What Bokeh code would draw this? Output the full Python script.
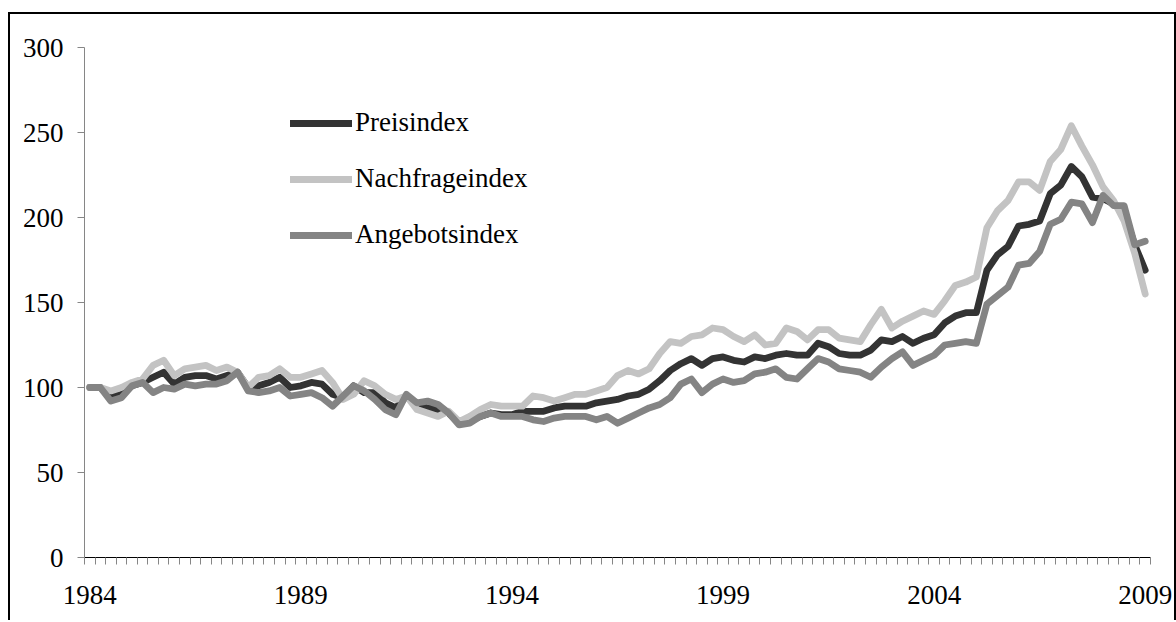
from bokeh.plotting import figure
from bokeh.models import FixedTicker, Legend, LegendItem, Range1d
from bokeh.embed import file_html
from bokeh.resources import INLINE

# ---------------- data (quarterly, 1984Q1 .. 2009Q1) ----------------
year_labels = ["1984", "1989", "1994", "1999", "2004", "2009"]
label_positions = [0, 20, 40, 60, 80, 100]
quarters = list(range(101))

preisindex = [
    100, 100, 95, 96, 101, 103, 106, 109, 102, 106,
    107, 107, 105, 107, 109, 100, 101, 103, 106, 100,
    101, 103, 102, 96, 94, 101, 97, 97, 91, 88,
    95, 90, 88, 87, 85, 79, 80, 83, 85, 84,
    84, 86, 86, 86, 88, 89, 89, 89, 91, 92,
    93, 95, 96, 99, 104, 110, 114, 117, 113, 117,
    118, 116, 115, 118, 117, 119, 120, 119, 119, 126,
    124, 120, 119, 119, 122, 128, 127, 130, 126, 129,
    131, 138, 142, 144, 144, 169, 178, 183, 195, 196,
    198, 214, 219, 230, 224, 212, 211, 208, 203, 184,
    169,
]

nachfrageindex = [
    100, 100, 98, 100, 103, 105, 113, 116, 107, 111,
    112, 113, 110, 112, 109, 100, 106, 107, 111, 106,
    106, 108, 110, 103, 93, 96, 104, 101, 96, 93,
    95, 87, 85, 83, 86, 80, 83, 87, 90, 89,
    89, 89, 95, 94, 92, 94, 96, 96, 98, 100,
    107, 110, 108, 111, 120, 127, 126, 130, 131, 135,
    134, 130, 127, 131, 125, 126, 135, 133, 128, 134,
    134, 129, 128, 127, 137, 146, 135, 139, 142, 145,
    143, 151, 160, 162, 165, 194, 204, 210, 221, 221,
    216, 233, 240, 254, 242, 231, 218, 210, 198, 179,
    155,
]

angebotsindex = [
    100, 100, 92, 94, 101, 103, 97, 100, 99, 102,
    101, 102, 102, 104, 109, 98, 97, 98, 100, 95,
    96, 97, 94, 89, 95, 101, 98, 93, 87, 84,
    96, 91, 92, 90, 85, 78, 79, 83, 85, 83,
    83, 83, 81, 80, 82, 83, 83, 83, 81, 83,
    79, 82, 85, 88, 90, 94, 102, 105, 97, 102,
    105, 103, 104, 108, 109, 111, 106, 105, 111, 117,
    115, 111, 110, 109, 106, 112, 117, 121, 113, 116,
    119, 125, 126, 127, 126, 149, 154, 159, 172, 173,
    180, 196, 199, 209, 208, 197, 213, 207, 207, 184,
    186,
]

y_ticks = [0, 50, 100, 150, 200, 250, 300]

FONT = "Liberation Serif"
FS = "27px"

p = figure(
    frame_width=1066, frame_height=510,
    min_border_left=74, min_border_right=24, min_border_top=33, min_border_bottom=63,
    x_range=Range1d(-0.5, 100.5), y_range=Range1d(0, 300),
    output_backend="svg", toolbar_location=None,
)
p.margin = (12, 0, 0, 8)
p.styles = {
    "border-left": "2px solid black",
    "border-top": "2px solid black",
    "border-right": "2px solid black",
}
p.outline_line_color = None
p.xgrid.grid_line_color = None
p.ygrid.grid_line_color = None
p.background_fill_color = "white"
p.border_fill_color = "white"

# x axis
p.xaxis.ticker = FixedTicker(ticks=label_positions,
                             minor_ticks=[i - 0.5 for i in range(102)])
p.xaxis.major_label_overrides = {pos: lab for pos, lab in zip(label_positions, year_labels)}
p.xaxis.major_tick_out = 0
p.xaxis.major_tick_in = 0
p.xaxis.minor_tick_out = 7
p.xaxis.minor_tick_in = 0
p.xaxis.minor_tick_line_color = "#868686"
p.xaxis.minor_tick_line_width = 1
p.xaxis.axis_line_color = "black"
p.xaxis.axis_line_width = 1
p.xaxis.major_label_standoff = 21

# y axis
p.yaxis.ticker = FixedTicker(ticks=y_ticks)
p.yaxis.major_tick_out = 7
p.yaxis.major_tick_in = 0
p.yaxis.minor_tick_line_color = None
p.yaxis.major_tick_line_color = "#868686"
p.yaxis.axis_line_color = "#868686"
p.yaxis.major_label_standoff = 14

for ax in (p.xaxis, p.yaxis):
    ax.major_label_text_font = FONT
    ax.major_label_text_font_size = FS
    ax.major_label_text_color = "black"

LW = 6.8
r1 = p.line(quarters, preisindex, line_width=LW, line_color="#333333",
            line_join="round", line_cap="round")
r2 = p.line(quarters, nachfrageindex, line_width=LW, line_color="#c3c3c3",
            line_join="round", line_cap="round")
r3 = p.line(quarters, angebotsindex, line_width=LW, line_color="#848484",
            line_join="round", line_cap="round")

legend = Legend(
    items=[
        LegendItem(label="Preisindex", renderers=[r1]),
        LegendItem(label="Nachfrageindex", renderers=[r2]),
        LegendItem(label="Angebotsindex", renderers=[r3]),
    ],
    location=(206, 307),
    orientation="vertical",
    glyph_width=62, glyph_height=30, label_height=30,
    spacing=25, padding=0, margin=0, label_standoff=3,
    border_line_color=None, background_fill_alpha=0,
    label_text_font=FONT, label_text_font_size=FS, label_text_color="black",
)
p.add_layout(legend)

open("out.html", "w").write(file_html(p, INLINE))
